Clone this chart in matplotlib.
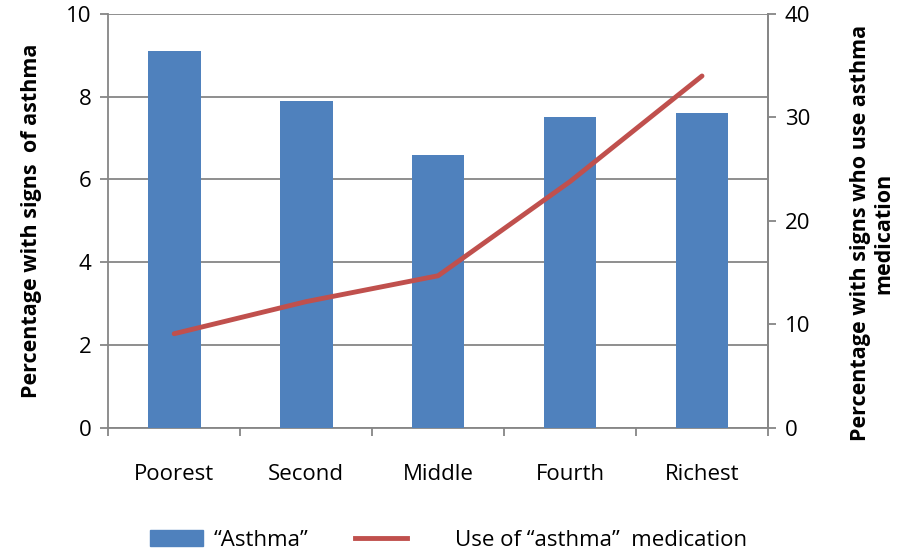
import numpy as np
import matplotlib
matplotlib.use("Agg")
import matplotlib.pyplot as plt
from matplotlib.patches import Patch
from matplotlib.lines import Line2D

categories = ["Poorest", "Second", "Middle", "Fourth", "Richest"]
asthma = [9.1, 7.9, 6.6, 7.5, 7.6]
medication = [9.1, 12.2, 14.7, 23.8, 34.0]

plt.rcParams['font.family'] = ['Open Sans', 'DejaVu Sans']
grey = "#868686"
blue = "#4f81bd"
red = "#c0504d"

fig = plt.figure(figsize=(9.17, 5.55), dpi=100)
ax = fig.add_axes([0.118, 0.229, 0.7195, 0.746])
ax2 = ax.twinx()

x = np.arange(len(categories))
ax.bar(x, asthma, width=0.4, color=blue, zorder=3)
ax2.plot(x, medication, color=red, lw=3.5, solid_capstyle='round', zorder=4)

ax.set_xlim(-0.5, 4.5)
ax.set_ylim(0, 10)
ax2.set_ylim(0, 40)
ax.set_yticks(np.arange(0, 11, 2))
ax2.set_yticks(np.arange(0, 41, 10))
ax.yaxis.grid(True, color=grey, lw=1.3, zorder=0)
ax.set_axisbelow(True)

ax.set_xticks(x)
ax.set_xticklabels(categories, fontsize=16)
ax.set_xticks(np.arange(-0.5, 5, 1), minor=True)
ax.tick_params(axis='x', which='major', length=0, pad=26)
ax.tick_params(axis='x', which='minor', length=6, color=grey, width=1.3)
ax.tick_params(axis='y', length=6, color=grey, width=1.3, labelsize=16, pad=6)
ax2.tick_params(axis='y', length=6, color=grey, width=1.3, labelsize=16, pad=6)

for a in (ax, ax2):
    for s in a.spines.values():
        s.set_color(grey)
        s.set_linewidth(1.3)
    a.spines['top'].set_visible(False)
ax2.spines['left'].set_visible(False)
ax2.spines['bottom'].set_visible(False)

ax.set_ylabel("Percentage with signs  of asthma", fontsize=15.5, fontweight='bold')
ax.yaxis.set_label_coords(-0.10, 0.5)
ax2.set_ylabel("Percentage with signs who use asthma\nmedication", fontsize=15.5,
               fontweight='bold', linespacing=1.1)
ax2.yaxis.set_label_coords(1.125, 0.47)

leg1 = fig.legend([Patch(color=blue)], ["\u201cAsthma\u201d"], loc='center left',
                  bbox_to_anchor=(0.1636, 0.027), frameon=False, fontsize=16,
                  handlelength=2.4, handletextpad=0.45, borderpad=0, borderaxespad=0)
leg2 = fig.legend([Line2D([0], [0], color=red, lw=3.5)], ["Use of \u201casthma\u201d  medication"],
                  loc='center left', bbox_to_anchor=(0.387, 0.027), frameon=False,
                  fontsize=16, handlelength=2.35, handletextpad=2.15, borderpad=0,
                  borderaxespad=0)

fig.savefig("out.png", dpi=100)
